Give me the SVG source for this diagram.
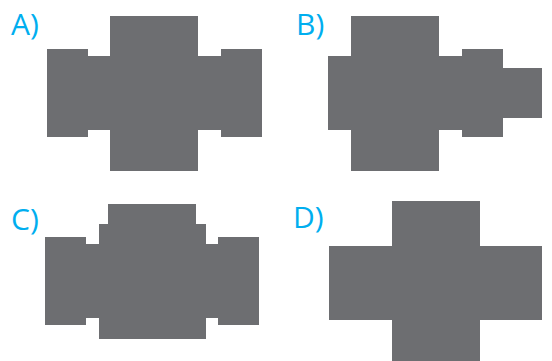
<svg xmlns="http://www.w3.org/2000/svg" width="552" height="361" viewBox="0 0 552 361">
<style>
.s{fill:#6D6E71}
.l{fill:#00AEEF;font-family:"Open Sans","Noto Sans",sans-serif;font-size:30px}
</style>
<rect width="552" height="361" fill="#fff"/>
<g id="A">
<text class="l" x="11" y="35">A)</text>
<rect class="s" x="110" y="16" width="88" height="155"/>
<rect class="s" x="88" y="56" width="133" height="74"/>
<rect class="s" x="47" y="49" width="41" height="88"/>
<rect class="s" x="221" y="49" width="41" height="88"/>
</g>
<g id="B">
<text class="l" x="296" y="35">B)</text>
<rect class="s" x="351" y="16" width="88" height="155"/>
<rect class="s" x="328" y="56" width="134" height="74"/>
<rect class="s" x="462" y="49" width="41" height="88"/>
<rect class="s" x="503" y="68" width="39" height="50"/>
</g>
<g id="C">
<text class="l" x="11" y="230">C)</text>
<rect class="s" x="108" y="204" width="88" height="30"/>
<rect class="s" x="99" y="224" width="107" height="115"/>
<rect class="s" x="86" y="244" width="132" height="74"/>
<rect class="s" x="45" y="237" width="41" height="88"/>
<rect class="s" x="218" y="237" width="41" height="88"/>
</g>
<g id="D">
<text class="l" x="293" y="228">D)</text>
<rect class="s" x="392" y="201" width="88" height="160"/>
<rect class="s" x="329" y="246" width="213" height="74"/>
</g>
</svg>
